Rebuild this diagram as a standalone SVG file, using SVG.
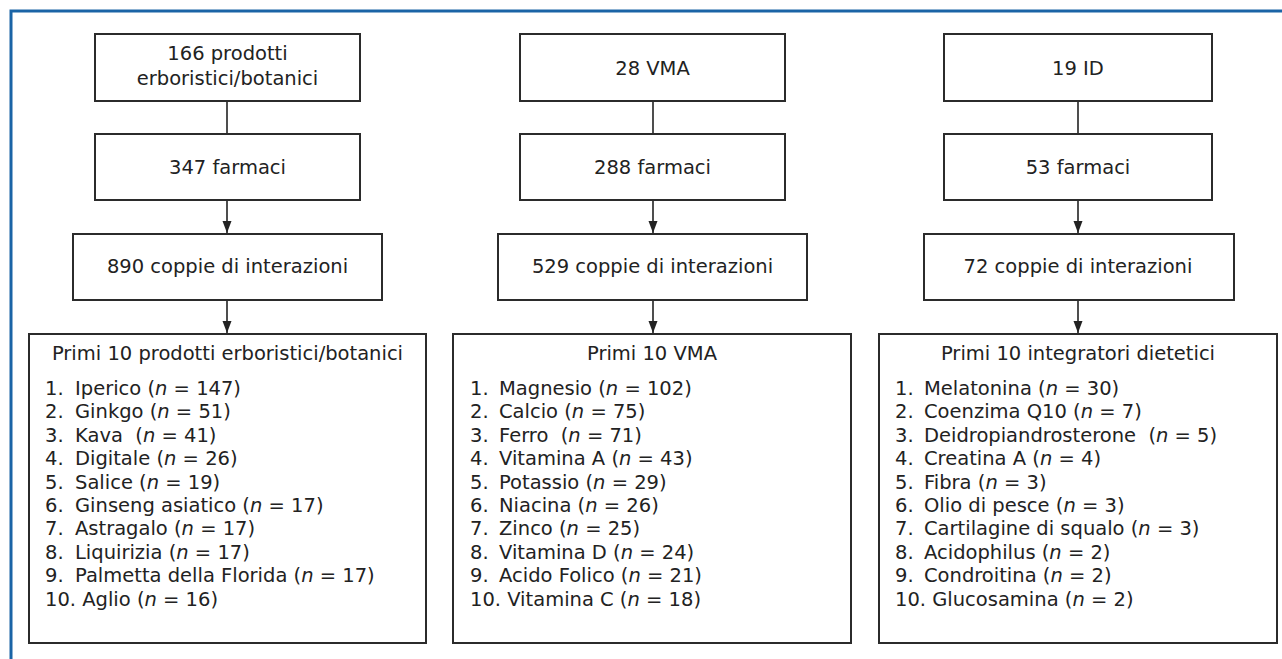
<svg xmlns="http://www.w3.org/2000/svg" width="1282" height="659" viewBox="0 0 1282 659">
<defs>
<style>
.box{fill:#fff;stroke:#2b2b2b;stroke-width:2}
.t{font-family:"DejaVu Sans",Verdana,sans-serif;font-size:19.5px;fill:#222;white-space:pre}
.c{text-anchor:middle}
.i{font-style:italic}
.ln{stroke:#222;stroke-width:1.6;fill:none}
.ah{fill:#222}
.frame{stroke:#1a64a6;stroke-width:3;fill:none}
</style>
</defs>
<rect width="1282" height="659" fill="#fff"/>
<path class="frame" d="M11,659 L11,11 L1282,11"/>

<g id="connectors">
<line class="ln" x1="227" y1="101" x2="227" y2="133"/>
<line class="ln" x1="227" y1="200" x2="227" y2="233"/>
<line class="ln" x1="227" y1="300" x2="227" y2="333"/>
<line class="ln" x1="653" y1="101" x2="653" y2="133"/>
<line class="ln" x1="653" y1="200" x2="653" y2="233"/>
<line class="ln" x1="653" y1="300" x2="653" y2="333"/>
<line class="ln" x1="1078" y1="101" x2="1078" y2="133"/>
<line class="ln" x1="1078" y1="200" x2="1078" y2="233"/>
<line class="ln" x1="1078" y1="300" x2="1078" y2="333"/>
<path class="ah" d="M222.5,221 L231.5,221 L227,233 Z"/>
<path class="ah" d="M222.5,321 L231.5,321 L227,333 Z"/>
<path class="ah" d="M648.5,221 L657.5,221 L653,233 Z"/>
<path class="ah" d="M648.5,321 L657.5,321 L653,333 Z"/>
<path class="ah" d="M1073.5,221 L1082.5,221 L1078,233 Z"/>
<path class="ah" d="M1073.5,321 L1082.5,321 L1078,333 Z"/>
</g>

<g id="n-herbal">
<rect class="box" x="95" y="34" width="265" height="67"/>
<text class="t c" x="227.5" y="60">166 prodotti</text>
<text class="t c" x="227.5" y="85">erboristici/botanici</text>
</g>
<g id="n-herbal-drugs">
<rect class="box" x="95" y="134" width="265" height="66"/>
<text class="t c" x="227.5" y="174">347 farmaci</text>
</g>
<g id="n-herbal-pairs">
<rect class="box" x="73" y="234" width="309" height="66"/>
<text class="t c" x="227.5" y="273">890 coppie di interazioni</text>
</g>
<g id="n-herbal-top">
<rect class="box" x="29" y="334" width="397" height="309"/>
<text class="t c" x="227.5" y="360">Primi 10 prodotti erboristici/botanici</text>
<text class="t" x="45" y="395">1.</text><text class="t" x="75" y="395">Iperico (<tspan class="i">n</tspan> = 147)</text>
<text class="t" x="45" y="418.4">2.</text><text class="t" x="75" y="418.4">Ginkgo (<tspan class="i">n</tspan> = 51)</text>
<text class="t" x="45" y="441.8">3.</text><text class="t" x="75" y="441.8">Kava  (<tspan class="i">n</tspan> = 41)</text>
<text class="t" x="45" y="465.2">4.</text><text class="t" x="75" y="465.2">Digitale (<tspan class="i">n</tspan> = 26)</text>
<text class="t" x="45" y="488.6">5.</text><text class="t" x="75" y="488.6">Salice (<tspan class="i">n</tspan> = 19)</text>
<text class="t" x="45" y="512">6.</text><text class="t" x="75" y="512">Ginseng asiatico (<tspan class="i">n</tspan> = 17)</text>
<text class="t" x="45" y="535.4">7.</text><text class="t" x="75" y="535.4">Astragalo (<tspan class="i">n</tspan> = 17)</text>
<text class="t" x="45" y="558.8">8.</text><text class="t" x="75" y="558.8">Liquirizia (<tspan class="i">n</tspan> = 17)</text>
<text class="t" x="45" y="582.2">9.</text><text class="t" x="75" y="582.2">Palmetta della Florida (<tspan class="i">n</tspan> = 17)</text>
<text class="t" x="45" y="605.6">10. Aglio (<tspan class="i">n</tspan> = 16)</text>
</g>

<g id="n-vma">
<rect class="box" x="520" y="34" width="265" height="67"/>
<text class="t c" x="652.5" y="75">28 VMA</text>
</g>
<g id="n-vma-drugs">
<rect class="box" x="520" y="134" width="265" height="66"/>
<text class="t c" x="652.5" y="174">288 farmaci</text>
</g>
<g id="n-vma-pairs">
<rect class="box" x="498" y="234" width="309" height="66"/>
<text class="t c" x="652.5" y="273">529 coppie di interazioni</text>
</g>
<g id="n-vma-top">
<rect class="box" x="453" y="334" width="398" height="309"/>
<text class="t c" x="652" y="360">Primi 10 VMA</text>
<text class="t" x="470" y="395">1.</text><text class="t" x="499" y="395">Magnesio (<tspan class="i">n</tspan> = 102)</text>
<text class="t" x="470" y="418.4">2.</text><text class="t" x="499" y="418.4">Calcio (<tspan class="i">n</tspan> = 75)</text>
<text class="t" x="470" y="441.8">3.</text><text class="t" x="499" y="441.8">Ferro  (<tspan class="i">n</tspan> = 71)</text>
<text class="t" x="470" y="465.2">4.</text><text class="t" x="499" y="465.2">Vitamina A (<tspan class="i">n</tspan> = 43)</text>
<text class="t" x="470" y="488.6">5.</text><text class="t" x="499" y="488.6">Potassio (<tspan class="i">n</tspan> = 29)</text>
<text class="t" x="470" y="512">6.</text><text class="t" x="499" y="512">Niacina (<tspan class="i">n</tspan> = 26)</text>
<text class="t" x="470" y="535.4">7.</text><text class="t" x="499" y="535.4">Zinco (<tspan class="i">n</tspan> = 25)</text>
<text class="t" x="470" y="558.8">8.</text><text class="t" x="499" y="558.8">Vitamina D (<tspan class="i">n</tspan> = 24)</text>
<text class="t" x="470" y="582.2">9.</text><text class="t" x="499" y="582.2">Acido Folico (<tspan class="i">n</tspan> = 21)</text>
<text class="t" x="470" y="605.6">10. Vitamina C (<tspan class="i">n</tspan> = 18)</text>
</g>

<g id="n-id">
<rect class="box" x="944" y="34" width="268" height="67"/>
<text class="t c" x="1078" y="75">19 ID</text>
</g>
<g id="n-id-drugs">
<rect class="box" x="944" y="134" width="268" height="66"/>
<text class="t c" x="1078" y="174">53 farmaci</text>
</g>
<g id="n-id-pairs">
<rect class="box" x="924" y="234" width="310" height="66"/>
<text class="t c" x="1078" y="273">72 coppie di interazioni</text>
</g>
<g id="n-id-top">
<rect class="box" x="879" y="334" width="398" height="309"/>
<text class="t c" x="1078" y="360">Primi 10 integratori dietetici</text>
<text class="t" x="895" y="395">1.</text><text class="t" x="924" y="395">Melatonina (<tspan class="i">n</tspan> = 30)</text>
<text class="t" x="895" y="418.4">2.</text><text class="t" x="924" y="418.4">Coenzima Q10 (<tspan class="i">n</tspan> = 7)</text>
<text class="t" x="895" y="441.8">3.</text><text class="t" x="924" y="441.8">Deidropiandrosterone  (<tspan class="i">n</tspan> = 5)</text>
<text class="t" x="895" y="465.2">4.</text><text class="t" x="924" y="465.2">Creatina A (<tspan class="i">n</tspan> = 4)</text>
<text class="t" x="895" y="488.6">5.</text><text class="t" x="924" y="488.6">Fibra (<tspan class="i">n</tspan> = 3)</text>
<text class="t" x="895" y="512">6.</text><text class="t" x="924" y="512">Olio di pesce (<tspan class="i">n</tspan> = 3)</text>
<text class="t" x="895" y="535.4">7.</text><text class="t" x="924" y="535.4">Cartilagine di squalo (<tspan class="i">n</tspan> = 3)</text>
<text class="t" x="895" y="558.8">8.</text><text class="t" x="924" y="558.8">Acidophilus (<tspan class="i">n</tspan> = 2)</text>
<text class="t" x="895" y="582.2">9.</text><text class="t" x="924" y="582.2">Condroitina (<tspan class="i">n</tspan> = 2)</text>
<text class="t" x="895" y="605.6">10. Glucosamina (<tspan class="i">n</tspan> = 2)</text>
</g>
</svg>
